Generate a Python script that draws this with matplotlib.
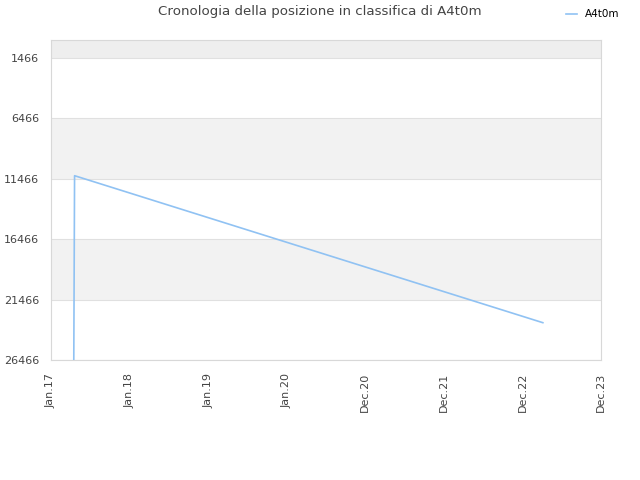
import matplotlib
matplotlib.use('Agg')
import matplotlib.pyplot as plt

# dati
tick_labels = ['Jan.17', 'Jan.18', 'Jan.19', 'Jan.20', 'Dec.20', 'Dec.21', 'Dec.22', 'Dec.23']
pos_x = [0.29, 0.30, 6.26]
pos_y = [26466, 11209, 23378]
y_ticks = [1466, 6466, 11466, 16466, 21466, 26466]
band_edges = [0, 1466, 6466, 11466, 16466, 21466, 26466]
band_colors = ['#eeeeee', 'white', '#f2f2f2', 'white', '#f2f2f2', 'white']

fig = plt.figure(figsize=(6.4, 4.8), dpi=100)
ax = fig.add_axes([51/640, 120/480, 550/640, 320/480])

# bande alternate di sfondo
for lo, hi, c in zip(band_edges[:-1], band_edges[1:], band_colors):
    ax.axhspan(lo, hi, color=c, zorder=0, lw=0)
for y in y_ticks:
    ax.axhline(y, color='#e0e0e0', lw=0.8, zorder=1)

ax.plot(pos_x, pos_y, color='#90c2f3', lw=1.2, label='A4t0m', zorder=3)

ax.set_xlim(0, len(tick_labels) - 1)
ax.set_ylim(26466, -24)
ax.set_xticks(range(len(tick_labels)))
ax.set_xticklabels(tick_labels, rotation=90)
ax.set_yticks(y_ticks)
ax.set_yticklabels([str(v) for v in y_ticks])
ax.tick_params(length=0, labelsize=8, colors='#444444')
ax.tick_params(axis='x', pad=9)
ax.tick_params(axis='y', pad=8.5)

for s in ax.spines.values():
    s.set_color('#d8d8d8')

fig.suptitle('Cronologia della posizione in classifica di A4t0m', x=0.5, y=0.99,
             fontsize=9.6, color='#444444')
fig.legend(loc='upper right', bbox_to_anchor=(0.983, 1.0), frameon=False, fontsize=7.5,
           handlelength=1.0, handletextpad=0.8)

fig.savefig('out.png', dpi=100)
